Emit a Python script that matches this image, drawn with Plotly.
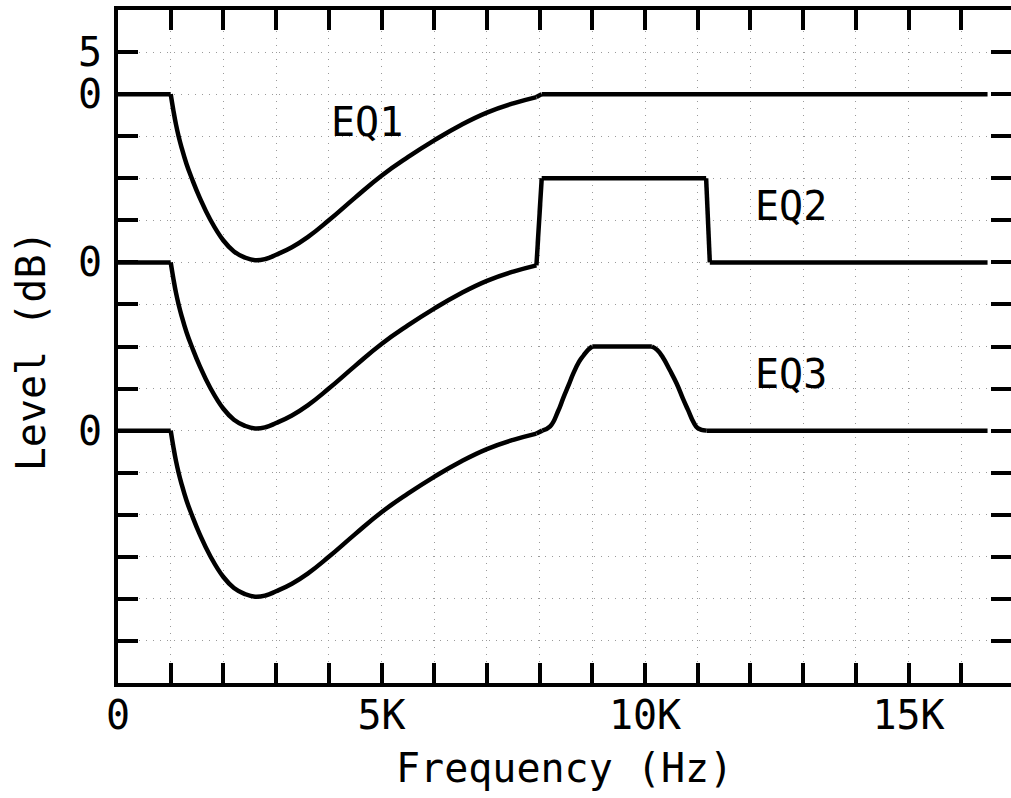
import plotly.graph_objects as go

# ---------------- data ----------------
# Shared dip shape (Hz, dB relative to each curve's own 0 dB line)
dip_freq = [0, 1000, 1050, 1100, 1150, 1200, 1300, 1400, 1550, 1750, 2000, 2200,
            2400, 2600, 2800, 3000, 3300, 3600, 4000, 4500, 5000, 5500,
            6000, 6500, 7000, 7500, 7940]
dip_level = [0, 0, -1.9, -3.6, -5.0, -6.2, -8.3, -10.0, -12.3, -14.9, -17.4, -18.7,
             -19.4, -19.75, -19.6, -19.1, -18.2, -17.0, -15.0, -12.3, -9.7, -7.5,
             -5.5, -3.7, -2.2, -1.1, -0.35]

# Upper-band part of each curve
eq1_freq = [8040, 16500]
eq1_level = [0, 0]

eq2_freq = [8040, 11160, 11230, 16500]
eq2_level = [10, 10, 0, 0]

eq3_freq = [8050, 8200, 8350, 8450, 8550, 8640, 8750, 8830, 8920, 9000,
            10130, 10230, 10340, 10470, 10600, 10720, 10820, 10920, 11000, 11170, 16500]
eq3_level = [0.0, 0.5, 2.3, 3.9, 5.4, 6.8, 8.2, 8.9, 9.6, 10.0,
             10.0, 9.6, 8.7, 7.2, 5.6, 3.8, 2.4, 1.0, 0.3, 0.0, 0.0]

curve_names = ["EQ1", "EQ2", "EQ3"]
curve_offsets = [0, -20, -40]          # vertical stacking of the three curves (dB)

x_tick_vals = list(range(0, 16001, 1000))
x_tick_text = ["0" if v == 0 else (f"{v // 1000}K" if v % 5000 == 0 else "") for v in x_tick_vals]
y_tick_vals = list(range(-70, 11, 5))
y_tick_labelled = {5: "5", 0: "0", -20: "0", -40: "0"}
y_tick_text = [y_tick_labelled.get(v, "") for v in y_tick_vals]

# label positions (data coords)
label_x = [4725, 12770, 12770]
label_y = [-3.3, -13.3, -33.3]

# frequencies where each curve has a sharp corner (curve is smoothed between corners)
corners = [
    [1000, 7940, 8040],
    [1000, 7940, 8040, 11160, 11230],
    [1000, 7940, 8050, 9000, 10130, 11170],
]

# ---------------- figure ----------------
FONT = "DejaVu Sans Mono"
FS = 40

fig = go.Figure()
tails = [(eq1_freq, eq1_level), (eq2_freq, eq2_level), (eq3_freq, eq3_level)]
for name, off, (tf, tl), cset in zip(curve_names, curve_offsets, tails, corners):
    xs = dip_freq + tf
    ys = [v + off for v in dip_level + tl]
    # split into pieces at the corners, draw each piece smoothed
    start = 0
    for i, fx in enumerate(xs):
        if (fx in cset and i > start) or i == len(xs) - 1:
            px, py = xs[start:i + 1], ys[start:i + 1]
            fig.add_trace(go.Scatter(x=px, y=py, mode="lines", name=name,
                                     line=dict(color="black", width=4.5,
                                               shape="spline", smoothing=1.3),
                                     showlegend=False, hoverinfo="skip"))
            start = i

# invisible trace so the right-hand tick axis is drawn
fig.add_trace(go.Scatter(x=[None], y=[None], yaxis="y2", showlegend=False, hoverinfo="skip"))

for name, lx, ly in zip(curve_names, label_x, label_y):
    fig.add_annotation(x=lx, y=ly, text=name, showarrow=False,
                       font=dict(family=FONT, size=FS, color="black"),
                       xanchor="center", yanchor="middle")

fig.add_annotation(xref="paper", yref="paper", x=0.5, y=-0.126, text="Frequency (Hz)",
                   showarrow=False, font=dict(family=FONT, size=FS, color="black"),
                   xanchor="center", yanchor="middle")
fig.add_annotation(xref="paper", yref="paper", x=-0.0974, y=0.493, text="Level (dB)",
                   showarrow=False, textangle=-90,
                   font=dict(family=FONT, size=FS, color="black"),
                   xanchor="center", yanchor="middle")

grid_common = dict(showgrid=True, gridcolor="#9a9a9a", gridwidth=1, griddash="1px,6px",
                   zeroline=False, ticks="inside", ticklen=20, tickwidth=4,
                   tickcolor="black", showline=True, linecolor="black", linewidth=4,
                   tickfont=dict(family=FONT, size=FS, color="black"))

fig.update_layout(
    width=1011, height=798,
    margin=dict(l=118, r=0, t=10, b=115),
    paper_bgcolor="white", plot_bgcolor="white",
    xaxis=dict(range=[0, 16945], tickmode="array", tickvals=x_tick_vals,
               ticktext=x_tick_text, mirror="ticks", ticklabelstandoff=-6, **grid_common),
    yaxis=dict(range=[-70, 10], tickmode="array", tickvals=y_tick_vals,
               ticktext=y_tick_text, mirror=False, ticklabelstandoff=4, **grid_common),
    yaxis2=dict(range=[-70, 10], overlaying="y", side="right", tickmode="array",
                tickvals=y_tick_vals, showticklabels=False, showgrid=False,
                zeroline=False, showline=False, ticks="inside", ticklen=20,
                tickwidth=4, tickcolor="black"),
)

fig.write_html("out.html")
